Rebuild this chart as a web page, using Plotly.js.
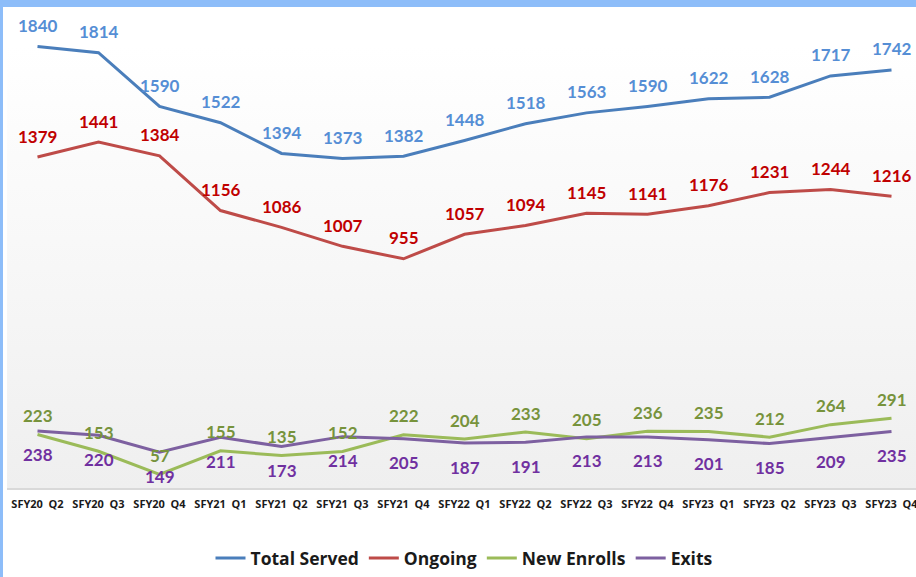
<!DOCTYPE html>
<html>
<head>
<meta charset="utf-8">
<script src="https://cdn.plot.ly/plotly-3.0.1.min.js"></script>
<style>
html,body{margin:0;padding:0;background:#fff;overflow:hidden;width:916px;height:577px;}
#wrap{position:absolute;left:0;top:0;width:923px;height:570px;border-top:7px solid #8dbdf9;border-left:3px solid #8dbdf9;}
#chart{width:920px;height:570px;}
</style>
</head>
<body>
<div id="wrap"><div id="chart"></div></div>
<script>
const categories = ["SFY20 Q2","SFY20 Q3","SFY20 Q4","SFY21 Q1","SFY21 Q2","SFY21 Q3","SFY21 Q4","SFY22 Q1","SFY22 Q2","SFY22 Q3","SFY22 Q4","SFY23 Q1","SFY23 Q2","SFY23 Q3","SFY23 Q4"];
const totalServed = [1840,1814,1590,1522,1394,1373,1382,1448,1518,1563,1590,1622,1628,1717,1742];
const ongoing     = [1379,1441,1384,1156,1086,1007,955,1057,1094,1145,1141,1176,1231,1244,1216];
const newEnrolls  = [223,153,57,155,135,152,222,204,233,205,236,235,212,264,291];
const exits       = [238,220,149,211,173,214,205,187,191,213,213,201,185,209,235];

const LABEL_FONT = "Lato, 'Open Sans', sans-serif";
const TEXT_FONT = "'Open Sans', Lato, sans-serif";
const seriesDefs = [
  {name:"Total Served", y:totalServed, line:"#4a7ebb", label:"#558ed5", shift:21},
  {name:"Ongoing",      y:ongoing,     line:"#be4b48", label:"#c00000", shift:21},
  {name:"New Enrolls",  y:newEnrolls,  line:"#9bbb59", label:"#77933c", shift:19},
  {name:"Exits",        y:exits,       line:"#7d60a0", label:"#7030a0", shift:-24}
];

const traces = seriesDefs.map(s => ({
  type:"scatter", mode:"lines", name:s.name,
  x:categories, y:s.y,
  line:{color:s.line, width:3},
  hoverinfo:"x+y+name"
}));

const annotations = [];
seriesDefs.forEach(s => {
  s.y.forEach((v,i) => {
    annotations.push({
      x:categories[i], y:v, xref:"x", yref:"y",
      text:String(v), showarrow:false,
      yshift:s.shift, xanchor:"center", yanchor:"middle",
      font:{family:LABEL_FONT, size:17, color:s.label, weight:"bold"}
    });
  });
});

const gradSvg = "<svg xmlns='http://www.w3.org/2000/svg' width='100' height='100' preserveAspectRatio='none'><defs><linearGradient id='g' x1='0' y1='0' x2='0' y2='1'><stop offset='0' stop-color='#ffffff'/><stop offset='0.08' stop-color='#ffffff'/><stop offset='1' stop-color='#efefef'/></linearGradient></defs><rect width='100' height='100' fill='url(#g)'/></svg>";

const layout = {
  width:920, height:570,
  margin:{l:4, r:1, t:1, b:83, pad:0},
  paper_bgcolor:"#ffffff",
  plot_bgcolor:"rgba(0,0,0,0)",
  showlegend:true,
  font:{family:TEXT_FONT},
  xaxis:{
    type:"category", range:[-0.5, 14.5],
    tickvals:categories,
    ticktext:categories.map(c => c.replace(" ", "\u00a0\u00a0")),
    showgrid:false, zeroline:false,
    showline:true, linecolor:"#d9d9d9", linewidth:2,
    ticks:"", ticklen:0, ticklabelstandoff:5,
    tickfont:{family:TEXT_FONT, size:11, color:"#1a1a1a", weight:"bold"},
    fixedrange:true
  },
  yaxis:{
    range:[0,2000], showgrid:false, zeroline:false, showline:false,
    showticklabels:false, ticks:"", fixedrange:true
  },
  legend:{
    orientation:"h", x:0.5, xanchor:"center", y:-0.146, yanchor:"middle",
    font:{family:TEXT_FONT, size:17.5, color:"#1a1a1a", weight:"bold"},
    bgcolor:"rgba(0,0,0,0)", itemwidth:30, traceorder:"normal"
  },
  images:[{
    source:"data:image/svg+xml;utf8," + encodeURIComponent(gradSvg),
    xref:"paper", yref:"paper", x:0, y:1, sizex:1, sizey:1,
    sizing:"stretch", xanchor:"left", yanchor:"top", layer:"below"
  }],
  annotations:annotations
};

Plotly.newPlot("chart", traces, layout, {displayModeBar:false, staticPlot:true});
</script>
</body>
</html>
